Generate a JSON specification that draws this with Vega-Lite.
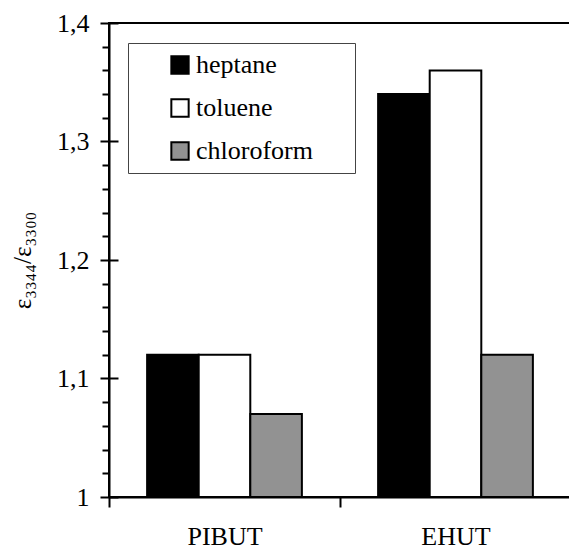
{
  "$schema": "https://vega.github.io/schema/vega-lite/v6.json",
  "width": 462,
  "height": 474,
  "autosize": {"type": "none"},
  "padding": {"left": 109, "top": 23, "right": 0, "bottom": 53},
  "data": {
    "values": [
      {"polymer": "PIBUT", "solvent": "heptane", "ratio": 1.12},
      {"polymer": "PIBUT", "solvent": "toluene", "ratio": 1.12},
      {"polymer": "PIBUT", "solvent": "chloroform", "ratio": 1.07},
      {"polymer": "EHUT", "solvent": "heptane", "ratio": 1.34},
      {"polymer": "EHUT", "solvent": "toluene", "ratio": 1.36},
      {"polymer": "EHUT", "solvent": "chloroform", "ratio": 1.12}
    ]
  },
  "mark": {"type": "bar", "stroke": "black", "strokeWidth": 2},
  "encoding": {
    "x": {
      "field": "polymer",
      "type": "nominal",
      "sort": ["PIBUT", "EHUT"],
      "scale": {"paddingInner": 0.33, "paddingOuter": 0.165},
      "axis": {
        "title": null,
        "tickOffset": -115.5,
        "labelOffset": 115.5,
        "labelAngle": 0,
        "labelFont": "Liberation Serif",
        "labelFontSize": 26,
        "labelColor": "black",
        "labelPadding": 16,
        "tickSize": 10,
        "tickWidth": 2,
        "tickColor": "black",
        "domainWidth": 2,
        "domainColor": "black"
      }
    },
    "xOffset": {"field": "solvent", "type": "nominal", "sort": ["heptane", "toluene", "chloroform"]},
    "y": {
      "field": "ratio",
      "type": "quantitative",
      "scale": {"domain": [1, 1.4], "zero": false},
      "axis": {
        "values": [1, 1.02, 1.04, 1.06, 1.08, 1.1, 1.12, 1.14, 1.16, 1.18, 1.2, 1.22, 1.24, 1.26, 1.28, 1.3, 1.32, 1.34, 1.36, 1.38, 1.4],
        "tickSize": {"condition": {"test": "abs(datum.value*10 - round(datum.value*10)) < 0.01", "value": 9}, "value": 7},
        "labelExpr": "abs(datum.value*10 - round(datum.value*10)) < 0.01 ? replace(format(datum.value, '.1~f'), '.', ',') : ''",
        "labelOverlap": false,
        "labelFlush": false,
        "labelFont": "Liberation Serif",
        "labelFontSize": 26,
        "labelColor": "black",
        "labelPadding": 11,
        "tickWidth": 2,
        "tickColor": "black",
        "domainWidth": 2,
        "domainColor": "black",
        "grid": true,
        "gridColor": "black",
        "gridWidth": 2,
        "gridDash": [9, 1000],
        "gridOpacity": {"condition": {"test": "abs(datum.value*10 - round(datum.value*10)) < 0.01", "value": 1}, "value": 0},
        "title": "ε₃₃₄₄/ε₃₃₀₀",
        "titleFont": "Liberation Serif",
        "titleFontSize": 25,
        "titleFontWeight": "normal",
        "titleColor": "black",
        "titlePadding": 21
      }
    },
    "y2": {"datum": 1},
    "color": {
      "field": "solvent",
      "type": "nominal",
      "scale": {"domain": ["heptane", "toluene", "chloroform"], "range": ["black", "white", "#929292"]},
      "legend": {
        "title": null,
        "orient": "none",
        "legendX": 19,
        "legendY": 20,
        "padding": 9,
        "strokeColor": "#444",
        "fillColor": "white",
        "symbolType": "square",
        "symbolSize": 300,
        "symbolStrokeColor": "black",
        "symbolStrokeWidth": 2,
        "symbolOffset": 30,
        "labelFont": "Liberation Serif",
        "labelFontSize": 26,
        "labelColor": "black",
        "labelOffset": 3,
        "labelExpr": "datum.label + '\u00a0\u00a0\u00a0\u00a0\u00a0\u200b'",
        "rowPadding": 17
      }
    }
  },
  "config": {
    "font": "Liberation Serif",
    "view": {"stroke": "black", "strokeWidth": 2}
  }
}
